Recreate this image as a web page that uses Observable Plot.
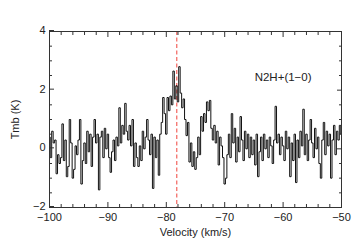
<!DOCTYPE html>
<html><head><meta charset="utf-8">
<script src="https://cdn.jsdelivr.net/npm/d3@7"></script>
<script src="https://cdn.jsdelivr.net/npm/@observablehq/plot@0.6"></script>
<style>body{margin:0;background:#fff;}</style>
</head><body><div id="chart"></div>
<script>
const velocity = [
-100,-99.75,-99.5,-99.25,-99,-98.75,-98.5,-98.25,-98,-97.75,
-97.5,-97.25,-97,-96.75,-96.5,-96.25,-96,-95.75,-95.5,-95.25,
-95,-94.75,-94.5,-94.25,-94,-93.75,-93.5,-93.25,-93,-92.75,
-92.5,-92.25,-92,-91.75,-91.5,-91.25,-91,-90.75,-90.5,-90.25,
-90,-89.75,-89.5,-89.25,-89,-88.75,-88.5,-88.25,-88,-87.75,
-87.5,-87.25,-87,-86.75,-86.5,-86.25,-86,-85.75,-85.5,-85.25,
-85,-84.75,-84.5,-84.25,-84,-83.75,-83.5,-83.25,-83,-82.75,
-82.5,-82.25,-82,-81.75,-81.5,-81.25,-81,-80.75,-80.5,-80.25,
-80,-79.75,-79.5,-79.25,-79,-78.75,-78.5,-78.25,-78,-77.75,
-77.5,-77.25,-77,-76.75,-76.5,-76.25,-76,-75.75,-75.5,-75.25,
-75,-74.75,-74.5,-74.25,-74,-73.75,-73.5,-73.25,-73,-72.75,
-72.5,-72.25,-72,-71.75,-71.5,-71.25,-71,-70.75,-70.5,-70.25,
-70,-69.75,-69.5,-69.25,-69,-68.75,-68.5,-68.25,-68,-67.75,
-67.5,-67.25,-67,-66.75,-66.5,-66.25,-66,-65.75,-65.5,-65.25,
-65,-64.75,-64.5,-64.25,-64,-63.75,-63.5,-63.25,-63,-62.75,
-62.5,-62.25,-62,-61.75,-61.5,-61.25,-61,-60.75,-60.5,-60.25,
-60,-59.75,-59.5,-59.25,-59,-58.75,-58.5,-58.25,-58,-57.75,
-57.5,-57.25,-57,-56.75,-56.5,-56.25,-56,-55.75,-55.5,-55.25,
-55,-54.75,-54.5,-54.25,-54,-53.75,-53.5,-53.25,-53,-52.75,
-52.5,-52.25,-52,-51.75,-51.5,-51.25,-51,-50.75,-50.5,-50.25,
-50
];
const tmb = [
0.4,-0.3,0.6,0.2,0.3,-0.85,-0.2,-0.5,-0.3,0.85,
-0.4,0.3,-0.95,-0.6,1.0,0.2,-1.0,-0.7,0.1,-0.2,
0.3,1.0,-1.2,-0.4,0.2,-0.5,0.6,-0.1,0.5,-0.6,
0.4,1.0,0.2,0.5,-1.4,0.4,0.6,-0.3,0.7,0.0,
0.5,-0.3,-0.8,-0.1,0.3,-0.4,0.4,0.1,1.4,0.2,
0.8,0.5,1.55,0.6,0.3,0.8,0.1,1.0,-0.6,0.2,
-0.3,-0.6,0.1,-0.4,0.6,0.0,0.4,1.0,0.3,-0.2,
0.5,-1.35,0.4,-0.3,0.3,-0.9,0.5,0.9,1.75,1.2,
0.5,1.75,1.3,1.8,1.5,2.65,1.7,2.15,1.6,2.8,
1.9,1.4,1.7,1.0,0.45,0.9,-0.45,0.2,-0.6,-0.1,
-0.7,-0.3,0.4,-0.2,1.1,0.6,1.2,0.9,1.6,1.3,
1.65,0.7,0.3,0.8,0.2,0.6,-0.55,0.4,0.1,-0.3,
-1.2,-1.0,-0.2,0.5,-0.3,1.2,0.2,0.7,-0.45,0.4,
-0.1,1.1,0.3,-0.4,0.6,0.0,0.5,-0.3,0.4,-0.2,
0.3,-0.55,0.5,-0.95,-0.1,0.4,-0.4,0.5,0.0,0.3,
-0.3,0.4,0.1,-0.5,0.3,1.45,0.2,0.5,-0.2,0.4,
0.1,-0.4,0.6,0.0,0.4,-0.95,0.2,-0.4,0.5,-1.15,
0.3,-0.3,0.6,0.1,1.35,-0.2,0.5,-0.4,0.3,1.0,
0.2,-0.3,0.7,0.0,0.4,-0.5,-1.0,0.3,0.9,-0.2,
0.6,0.1,0.5,-1.0,0.3,0.8,-0.2,0.6,0.3,0.8,
0.5
];
const xMajorTicks = [-100, -90, -80, -70, -60, -50];
const xMinorTicks = [-98,-96,-94,-92,-88,-86,-84,-82,-78,-76,-74,-72,-68,-66,-64,-62,-58,-56,-54,-52];
const yMajorTicks = [-2, 0, 2, 4];
const yMinorTicks = [-1.5,-1,-0.5,0.5,1,1.5,2.5,3,3.5];
const systemicVelocity = [-78.2];
const lineLabel = [{v: -60, t: 2.45, text: "N2H+(1\u22120)"}];

const data = velocity.map((v, i) => ({v, t: tmb[i]}));
const fmt = d => d < 0 ? "\u2212" + Math.abs(d) : String(d);
const blank = () => "";
const axisColor = "#333";

const chart = Plot.plot({
  width: 360, height: 249,
  marginLeft: 49, marginRight: 19, marginTop: 31, marginBottom: 42,
  style: {fontFamily: "'Liberation Sans', Arial, sans-serif", fontSize: "12px", color: "#222", background: "#fff"},
  x: {domain: [-100, -50]},
  y: {domain: [-2, 4]},
  marks: [
    Plot.ruleX(systemicVelocity, {stroke: "#f0443c", strokeWidth: 1, strokeDasharray: "4,2.5"}),
    Plot.line(data, {x: "v", y: "t", curve: "step", stroke: "#111", strokeWidth: 1}),
    Plot.frame({stroke: axisColor, strokeWidth: 1}),
    Plot.axisX(xMinorTicks, {anchor: "bottom", tickSize: -3, tickFormat: blank, label: null, stroke: axisColor}),
    Plot.axisX(xMinorTicks, {anchor: "top", tickSize: -3, tickFormat: blank, label: null, stroke: axisColor}),
    Plot.axisX(xMajorTicks, {anchor: "top", tickSize: -5, tickFormat: blank, label: null, stroke: axisColor}),
    Plot.axisX(xMajorTicks, {anchor: "bottom", tickSize: -5, tickPadding: 11, tickFormat: fmt, stroke: axisColor, fontSize: 11,
      label: "Velocity (km/s)", labelAnchor: "center", labelOffset: 28, labelArrow: "none"}),
    Plot.axisY(yMinorTicks, {anchor: "left", tickSize: -3, tickFormat: blank, label: null, stroke: axisColor}),
    Plot.axisY(yMinorTicks, {anchor: "right", tickSize: -3, tickFormat: blank, label: null, stroke: axisColor}),
    Plot.axisY(yMajorTicks, {anchor: "right", tickSize: -5, tickFormat: blank, label: null, stroke: axisColor}),
    Plot.axisY(yMajorTicks, {anchor: "left", tickSize: -5, tickPadding: 9, tickFormat: fmt, stroke: axisColor, fontSize: 11, dy: -1,
      label: "Tmb (K)", labelAnchor: "center", labelOffset: 38, labelArrow: "none"}),
    Plot.text(lineLabel, {x: "v", y: "t", text: "text", fontSize: 11.5, fill: "#222"})
  ]
});
document.getElementById("chart").appendChild(chart);
</script>
</body></html>
